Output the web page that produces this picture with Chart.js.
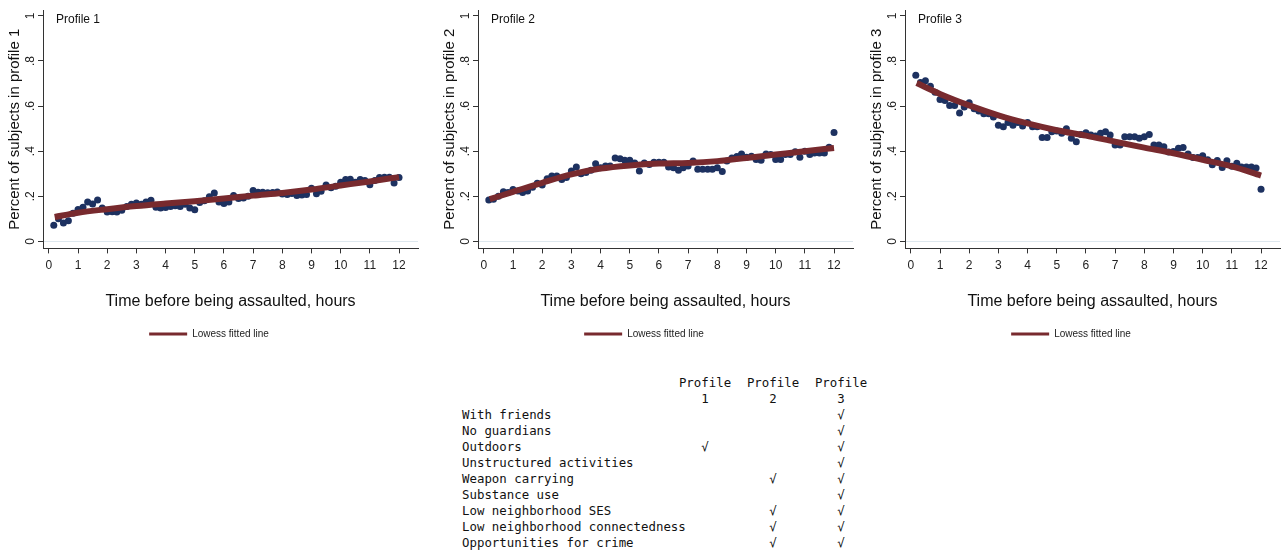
<!DOCTYPE html>
<html>
<head>
<meta charset="utf-8">
<script src="https://cdn.jsdelivr.net/npm/chart.js@4.4.1/dist/chart.umd.min.js"></script>
<style>
  body { margin: 0; background: #fff; width: 1284px; height: 551px; position: relative; overflow: hidden;
         font-family: "Liberation Sans", Arial, sans-serif; }
  .panel { position: absolute; top: 0; }
  #profiles { position: absolute; left: 462px; top: 375px; border-collapse: collapse; table-layout: fixed; width: 413px;
              font-family: "DejaVu Sans Mono", "Liberation Mono", monospace; font-size: 12.4px; color: #111; }
  #profiles td { padding: 0; height: 16px; line-height: 16px; white-space: nowrap; overflow: visible; }
  #profiles td.lab { width: 209px; text-align: left; }
  #profiles td.mark { width: 68px; text-align: center; }
</style>
</head>
<body>
<div class="panel" style="left:0px"><canvas id="p1" width="428" height="350"></canvas></div>
<div class="panel" style="left:435px"><canvas id="p2" width="428" height="350"></canvas></div>
<div class="panel" style="left:862px"><canvas id="p3" width="422" height="350"></canvas></div>
<table id="profiles"></table>

<script>
// time before assault, hours (10-minute bins)
const hours = [0.17,0.33,0.5,0.67,0.83,1, 1.17,1.33,1.5,1.67,1.83,2, 2.17,2.33,2.5,2.67,2.83,3,
  3.17,3.33,3.5,3.67,3.83,4, 4.17,4.33,4.5,4.67,4.83,5, 5.17,5.33,5.5,5.67,5.83,6,
  6.17,6.33,6.5,6.67,6.83,7, 7.17,7.33,7.5,7.67,7.83,8, 8.17,8.33,8.5,8.67,8.83,9,
  9.17,9.33,9.5,9.67,9.83,10, 10.17,10.33,10.5,10.67,10.83,11, 11.17,11.33,11.5,11.67,11.83,12];

const profile1 = [0.072,0.100,0.082,0.092,0.125,0.142, 0.151,0.175,0.166,0.184,0.148,0.130,
  0.131,0.130,0.138,0.155,0.165,0.170, 0.165,0.175,0.182,0.152,0.148,0.150,
  0.155,0.158,0.155,0.165,0.148,0.140, 0.172,0.180,0.198,0.215,0.175,0.168,
  0.175,0.204,0.190,0.192,0.200,0.226, 0.218,0.218,0.216,0.217,0.219,0.210,
  0.208,0.212,0.203,0.206,0.208,0.236, 0.211,0.222,0.250,0.238,0.245,0.262,
  0.275,0.276,0.262,0.274,0.270,0.251, 0.270,0.283,0.285,0.284,0.259,0.283];

const profile2 = [0.184,0.187,0.200,0.220,0.217,0.230, 0.224,0.217,0.224,0.240,0.258,0.250,
  0.278,0.290,0.290,0.275,0.283,0.312, 0.330,0.300,0.305,0.315,0.344,0.327,
  0.334,0.334,0.370,0.367,0.360,0.360, 0.348,0.312,0.348,0.341,0.351,0.351,
  0.351,0.330,0.327,0.315,0.327,0.334, 0.356,0.320,0.320,0.320,0.320,0.327,
  0.310,0.356,0.370,0.376,0.388,0.373, 0.378,0.363,0.360,0.388,0.385,0.363,
  0.363,0.385,0.385,0.397,0.373,0.400, 0.385,0.392,0.392,0.392,0.417,0.483];

const profile3 = [0.737,0.705,0.712,0.688,0.661,0.629, 0.625,0.603,0.603,0.569,0.596,0.615,
  0.588,0.578,0.566,0.566,0.552,0.515, 0.508,0.527,0.515,0.527,0.512,0.527,
  0.508,0.508,0.461,0.461,0.486,0.490, 0.479,0.500,0.457,0.442,0.474,0.482,
  0.472,0.467,0.479,0.486,0.472,0.428, 0.428,0.464,0.464,0.464,0.457,0.464,
  0.474,0.428,0.428,0.420,0.396,0.399, 0.413,0.416,0.387,0.372,0.372,0.380,
  0.362,0.340,0.359,0.328,0.358,0.333, 0.347,0.330,0.330,0.330,0.326,0.231];

// lowess fitted lines
const lowessHours = [0.2,1,2,3,4,5,6,7,8,9,10,11,12];
const lowess1 = [0.108,0.127,0.143,0.157,0.168,0.178,0.190,0.203,0.215,0.230,0.248,0.266,0.285];
const lowess2 = [0.187,0.220,0.260,0.297,0.323,0.337,0.345,0.348,0.356,0.370,0.385,0.400,0.414];
const lowess3 = [0.702,0.654,0.603,0.559,0.523,0.493,0.469,0.442,0.416,0.391,0.362,0.333,0.292];

const xTicks = [0,1,2,3,4,5,6,7,8,9,10,11,12];
const yTicks = [0,0.2,0.4,0.6,0.8,1];
const yTickLabels = ['0','.2','.4','.6','.8','1'];

// table below the charts
const tableHeader = ['Profile\n1','Profile\n2','Profile\n3'];
const rowLabels = ['With friends','No guardians','Outdoors','Unstructured activities','Weapon carrying',
  'Substance use','Low neighborhood SES','Low neighborhood connectedness','Opportunities for crime'];
const marks1 = [0,0,1,0,0,0,0,0,0];
const marks2 = [0,0,0,0,1,0,1,1,1];
const marks3 = [1,1,1,1,1,1,1,1,1];

const FONT = '"Liberation Sans", Arial, sans-serif';
const DOT = '#1d3160';
const FIT = '#782a2e';

const cornerLabel = {
  id: 'cornerLabel',
  afterDraw(chart, args, opts) {
    const { ctx, chartArea } = chart;
    ctx.save();
    ctx.font = '12px ' + FONT;
    ctx.fillStyle = '#111';
    ctx.textBaseline = 'middle';
    ctx.fillText(opts.text, chartArea.left + 13, chartArea.top + 10);
    ctx.restore();
  }
};

function makePanel(id, n, values, fit, rightPad) {
  new Chart(document.getElementById(id), {
    type: 'scatter',
    data: {
      datasets: [{
        label: 'Lowess fitted line',
        data: lowessHours.map((h, i) => ({ x: h, y: fit[i] })),
        showLine: true,
        borderColor: FIT,
        backgroundColor: FIT,
        borderWidth: 6,
        pointRadius: 0,
        cubicInterpolationMode: 'monotone',
        order: 0
      }, {
        label: 'Percent',
        data: hours.map((h, i) => ({ x: h, y: values[i] })),
        backgroundColor: DOT,
        borderColor: DOT,
        pointRadius: 3.5,
        borderWidth: 0,
        order: 1
      }]
    },
    plugins: [cornerLabel],
    options: {
      responsive: false,
      devicePixelRatio: 1,
      animation: false,
      layout: { padding: { top: 10, right: rightPad, bottom: 1, left: 0 } },
      plugins: {
        cornerLabel: { text: 'Profile ' + n },
        tooltip: { enabled: false },
        legend: {
          position: 'bottom',
          labels: {
            boxWidth: 38,
            boxHeight: 3,
            padding: 8,
            color: '#222',
            font: { family: FONT, size: 10 },
            generateLabels: (chart) => Chart.defaults.plugins.legend.labels.generateLabels(chart)
              .filter(l => l.datasetIndex === 0)
              .map(l => Object.assign(l, { lineWidth: 0 }))
          }
        }
      },
      scales: {
        x: {
          type: 'linear',
          min: -0.2,
          max: 12.65,
          afterBuildTicks: (s) => { s.ticks = xTicks.map(v => ({ value: v })); },
          border: { color: '#333', width: 1 },
          grid: { drawOnChartArea: false, drawTicks: true, tickLength: 5, tickColor: '#333' },
          ticks: { color: '#222', font: { family: FONT, size: 12 }, padding: 5, maxRotation: 0, autoSkip: false },
          title: {
            display: true,
            text: 'Time before being assaulted, hours',
            color: '#111',
            font: { family: FONT, size: 16 },
            padding: { top: 14, bottom: 10 }
          }
        },
        y: {
          min: -0.031,
          max: 1.026,
          afterBuildTicks: (s) => { s.ticks = yTicks.map(v => ({ value: v })); },
          afterFit: (s) => { s.width = 43; },
          border: { color: '#333', width: 1 },
          grid: {
            color: (c) => (c.tick && c.tick.value === 0) ? '#dde7ee' : 'rgba(0,0,0,0)',
            drawTicks: true, tickLength: 5, tickColor: '#333'
          },
          ticks: {
            color: '#222', font: { family: FONT, size: 12 },
            minRotation: 90, maxRotation: 90, crossAlign: 'center', padding: 2,
            callback: (v) => yTickLabels[yTicks.indexOf(v)]
          },
          title: {
            display: true,
            text: 'Percent of subjects in profile ' + n,
            color: '#111',
            font: { family: FONT, size: 15 },
            padding: { top: 6, bottom: 0 }
          }
        }
      }
    }
  });
}

makePanel('p1', 1, profile1, lowess1, 10);
makePanel('p2', 2, profile2, lowess2, 10);
makePanel('p3', 3, profile3, lowess3, 4);

// build the profile table
const table = document.getElementById('profiles');
const head1 = table.insertRow();
head1.insertCell().className = 'lab';
tableHeader.forEach(h => { const c = head1.insertCell(); c.className = 'mark'; c.textContent = h.split('\n')[0]; });
const head2 = table.insertRow();
head2.insertCell().className = 'lab';
tableHeader.forEach(h => { const c = head2.insertCell(); c.className = 'mark'; c.textContent = h.split('\n')[1]; });
rowLabels.forEach((label, i) => {
  const r = table.insertRow();
  const l = r.insertCell(); l.className = 'lab'; l.textContent = label;
  [marks1, marks2, marks3].forEach(m => {
    const c = r.insertCell(); c.className = 'mark'; c.textContent = m[i] ? '√' : '';
  });
});
</script>
</body>
</html>
